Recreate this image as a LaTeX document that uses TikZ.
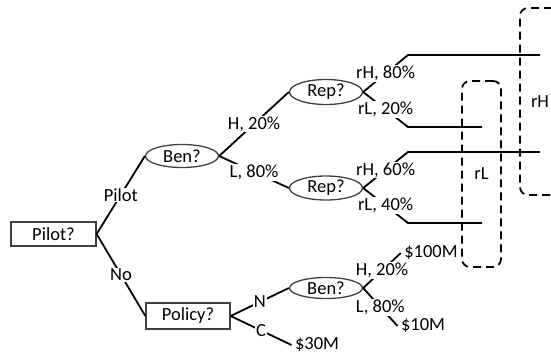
\documentclass[tikz,border=0pt]{standalone}
\usepackage{fontspec}
\setmainfont{Carlito}
\usepackage{tikz}
\usetikzlibrary{shapes.geometric}

\tikzset{
  entscheid/.style={rectangle, draw=black!75, line width=1.3pt, minimum width=85pt, minimum height=24pt, inner sep=0pt},
  zufall/.style={ellipse, draw=black!75, line width=1.3pt, minimum width=73pt, minimum height=23pt, inner sep=0pt},
  ast/.style={line width=1.8pt},
  lbl/.style={fill=white, inner sep=1pt},
  gruppe/.style={draw, line width=1.8pt, dash pattern=on 8pt off 5pt, rounded corners=8pt, inner sep=0pt}
}

\begin{document}
\begin{tikzpicture}[x=1pt, y=-1pt, font=\fontsize{18.5}{21}\selectfont]

    \useasboundingbox (0,0) rectangle (551,354);
    \clip (0,0) rectangle (551,354);

    % Entscheidungsknoten
    \node (pilotq) at (53.5,234) [entscheid] {Pilot?};
    \node (policy) at (188,316) [entscheid, minimum width=84pt, minimum height=26pt] {Policy?};

    % Zufallsknoten
    \node (ben1) at (182,156) [zufall] {Ben?};
    \node (rep1) at (326,92) [zufall, minimum height=25pt] {Rep?};
    \node (rep2) at (326,188) [zufall, minimum height=24pt] {Rep?};
    \node (ben2) at (326,288) [zufall, minimum height=21pt] {Ben?};

    % Ergebnisse
    \node (m100) at (431,253) {\$100M};
    \node (m10) at (423,326) {\$10M};
    \node (m30) at (317,345) {\$30M};

    % Gruppen
    \node (grpL) at (481.5,174) [gruppe, minimum width=39pt, minimum height=186pt] {rL};
    \node (grpH) at (540,101.5) [gruppe, minimum width=40pt, minimum height=187pt] {rH};

    % Knickpunkte und Enden
    \coordinate (kH80) at (408,55);  \coordinate (eH80) at (540,55);
    \coordinate (kL20) at (408,127); \coordinate (eL20) at (482,127);
    \coordinate (kH60) at (408,152); \coordinate (eH60) at (540,152);
    \coordinate (kL40) at (408,223); \coordinate (eL40) at (482,223);

    % Aeste
    \draw[ast] (pilotq.east) -- node[lbl] {Pilot} (ben1.west);
    \draw[ast] (pilotq.east) -- node[lbl] {No} (policy.west);
    \draw[ast] (ben1.east) -- node[lbl] {H, 20\%} (rep1.west);
    \draw[ast] (ben1.east) -- node[lbl] {L, 80\%} (rep2.west);
    \draw[ast] (policy.east) -- node[lbl] {N} (ben2.west);
    \draw[ast] (policy.east) -- node[lbl] {C} (m30.west);
    \draw[ast] (ben2.east) -- node[lbl] {H, 20\%} (m100.west);
    \draw[ast] (ben2.east) -- node[lbl] {L, 80\%} (m10.west);

    \draw[ast] (rep1.east) -- node[lbl] {rH, 80\%} (kH80) -- (eH80);
    \draw[ast] (rep1.east) -- node[lbl] {rL, 20\%} (kL20) -- (eL20);
    \draw[ast] (rep2.east) -- node[lbl] {rH, 60\%} (kH60) -- (eH60);
    \draw[ast] (rep2.east) -- node[lbl] {rL, 40\%} (kL40) -- (eL40);
\end{tikzpicture}
\end{document}
